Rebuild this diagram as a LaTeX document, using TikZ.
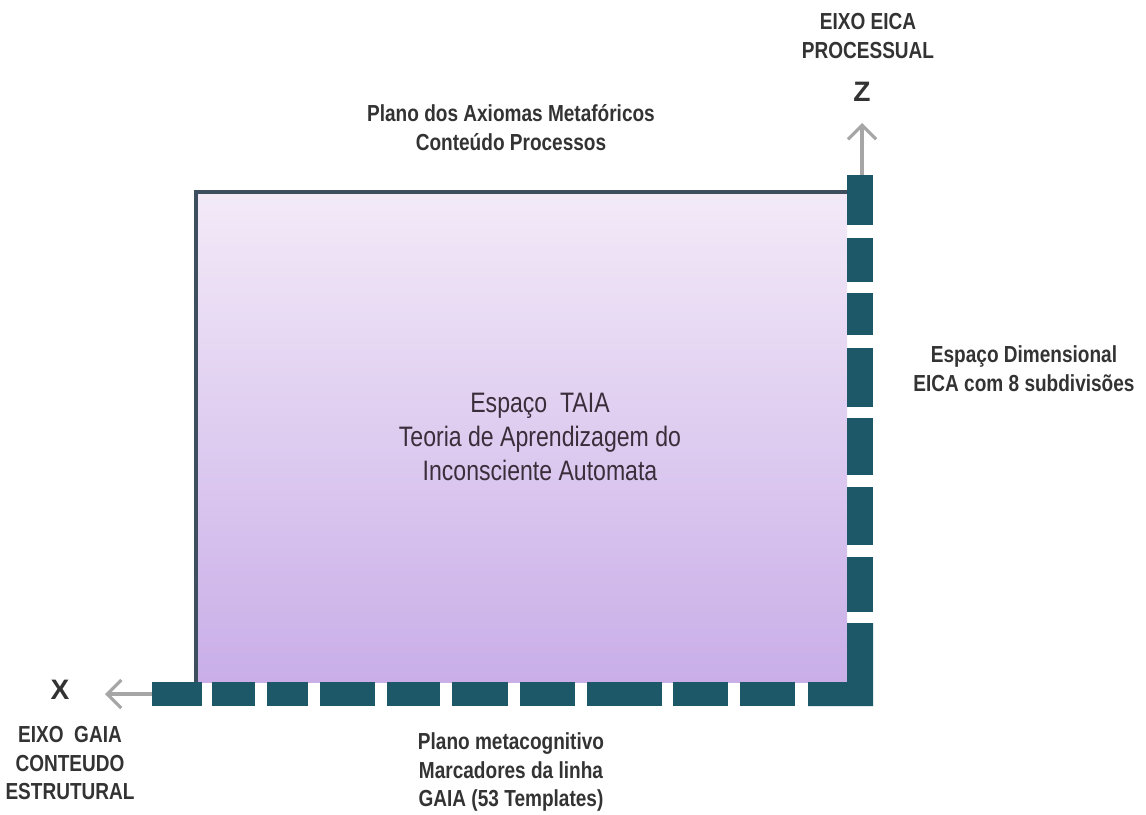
\documentclass[tikz,border=0pt]{standalone}
\usepackage{fontspec}
\setmainfont{Liberation Sans}
\newfontfamily\narrowsans[FakeStretch=0.82]{Liberation Sans}
\usetikzlibrary{arrows.meta}

\definecolor{barteal}{HTML}{1D5868}
\definecolor{framegray}{HTML}{3D4F5F}
\definecolor{axisgray}{HTML}{A6A6A6}
\definecolor{lilactop}{HTML}{F3EAF8}
\definecolor{lilacbot}{HTML}{C9AEE8}
\definecolor{labelgray}{HTML}{333333}

\begin{document}
\begin{tikzpicture}[
  x=0.01cm, y=-0.01cm,
  lbl/.style={inner sep=0pt, align=center, text=labelgray,
              font=\narrowsans\bfseries\fontsize{6.6}{8.2}\selectfont},
  axlbl/.style={inner sep=0pt, text=labelgray, font=\bfseries\fontsize{8}{9}\selectfont},
  seg/.style={fill=barteal},
  axarr/.style={-{Straight Barb[length=4pt, width=8pt]}, axisgray, line width=0.9pt}
]
  \useasboundingbox (0,0) rectangle (1146,814);

  % the TAIA space
  \shade[top color=lilactop, bottom color=lilacbot] (196,192) rectangle (847,682);
  \draw[framegray, line width=1.1pt] (196,682) -- (196,192) -- (847,192);
  \node[inner sep=0pt, align=center, text=labelgray!90!violet,
        font=\narrowsans\fontsize{8}{9.7}\selectfont] (taia) at (540,437)
    {Espaço\ \ TAIA\\ Teoria de Aprendizagem do\\ Inconsciente Automata};

  % EICA axis, 8 subdivisions
  \fill[seg] (847,175) rectangle (873,225);
  \fill[seg] (847,238) rectangle (873,282);
  \fill[seg] (847,293) rectangle (873,335);
  \fill[seg] (847,348) rectangle (873,407);
  \fill[seg] (847,418) rectangle (873,475);
  \fill[seg] (847,487) rectangle (873,545);
  \fill[seg] (847,557) rectangle (873,612);

  % GAIA axis
  \fill[seg] (152,682) rectangle (202,706);
  \fill[seg] (212,682) rectangle (255,706);
  \fill[seg] (267,682) rectangle (308,706);
  \fill[seg] (320,682) rectangle (375,706);
  \fill[seg] (387,682) rectangle (440,706);
  \fill[seg] (452,682) rectangle (508,706);
  \fill[seg] (520,682) rectangle (575,706);
  \fill[seg] (587,682) rectangle (662,706);
  \fill[seg] (673,682) rectangle (728,706);
  \fill[seg] (740,682) rectangle (795,706);

  % corner piece
  \fill[seg] (808,682) -- (847,682) -- (847,623) -- (873,623) -- (873,706) -- (808,706) -- cycle;

  \node[axlbl] (zlabel) at (862,92) {Z};
  \node[axlbl] (xlabel) at (60,690) {X};
  \coordinate (zbase) at (862,175);
  \coordinate (ztip) at (862,123);
  \coordinate (xbase) at (152,694);
  \coordinate (xtip) at (105,694);
  \draw[axarr] (zbase) -- (ztip);
  \draw[axarr] (xbase) -- (xtip);

  \node[lbl] (eica) at (868,36) {EIXO EICA\\ PROCESSUAL};
  \node[lbl] (axiomas) at (511,128) {Plano dos Axiomas Metafóricos\\ Conteúdo Processos};
  \node[lbl] (dimensional) at (1024,369) {Espaço Dimensional\\ EICA com 8 subdivisões};
  \node[lbl] (gaia) at (70,763) {EIXO\ \ GAIA\\ CONTEUDO\\ ESTRUTURAL};
  \node[lbl] (metacog) at (511,772) {Plano metacognitivo\\ Marcadores da linha\\ GAIA (53 Templates)};
\end{tikzpicture}
\end{document}
